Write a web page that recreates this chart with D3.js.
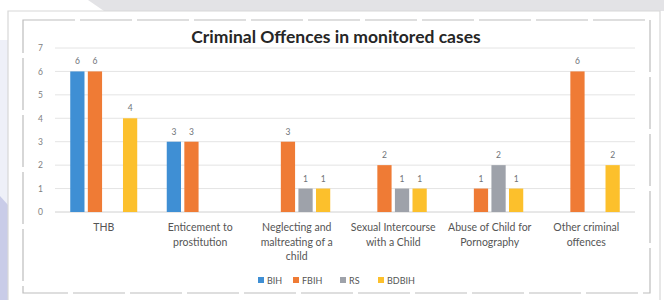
<!DOCTYPE html>
<html>
<head>
<meta charset="utf-8">
<script src="https://cdn.jsdelivr.net/npm/d3@7"></script>
<style>
  body { margin: 0; background: #fff; }
  svg { display: block; }
</style>
</head>
<body>
<script>
// chart data
const categories = ["THB", "Enticement to prostitution", "Neglecting and maltreating of a child",
  "Sexual Intercourse with a Child", "Abuse of Child for Pornography", "Other criminal offences"];
const categoryLines = [["THB"], ["Enticement to", "prostitution"], ["Neglecting and", "maltreating of a", "child"],
  ["Sexual Intercourse", "with a Child"], ["Abuse of Child for", "Pornography"], ["Other criminal", "offences"]];
const seriesNames = ["BIH", "FBIH", "RS", "BDBIH"];
const bihValues = [6, 3, null, null, null, null];
const fbihValues = [6, 3, 3, 2, 1, 6];
const rsValues = [null, null, 1, 1, 2, null];
const bdbihValues = [4, null, 1, 1, 1, 2];
const yTicks = [0, 1, 2, 3, 4, 5, 6, 7];
const chartTitle = "Criminal Offences in monitored cases";

const colors = {BIH: "#3f8fd4", FBIH: "#ef7b35", RS: "#9ea2aa", BDBIH: "#fcc02c"};
const seriesValues = {BIH: bihValues, FBIH: fbihValues, RS: rsValues, BDBIH: bdbihValues};

const w = 664, h = 300;
const svg = d3.select("body").append("svg").attr("width", w).attr("height", h);

// page background (photo of a report page)
svg.append("rect").attr("width", w).attr("height", h).attr("fill", "#ffffff");
svg.append("path").attr("d", "M88,0 L664,0 L664,11 L104,11 Z").attr("fill", "#e3e3e6");
svg.append("path").attr("d", "M0,40 L8,40 L8,300 L0,300 Z").attr("fill", "#eef0f8");
svg.append("path").attr("d", "M0,196 L8,205 L8,300 L0,300 Z").attr("fill", "#c9cce8");
svg.append("path").attr("d", "M8,300 L8,11 L660,11 L660,300")
  .attr("fill", "none").attr("stroke", "#d8d8d8").attr("stroke-width", 1.2);

// chart frame
svg.append("rect").attr("x", 23).attr("y", 20).attr("width", 627).attr("height", 273)
  .attr("fill", "#fff").attr("stroke", "#bdbdbd").attr("stroke-width", 1.2)
  .attr("stroke-dasharray", "52,5");

const plotLeft = 55, plotRight = 635, plotTop = 48, plotBottom = 212;
const font = "Lato, 'Open Sans', sans-serif";

const x0 = d3.scaleBand().domain(categories).range([plotLeft, plotRight]).paddingInner(0.306).paddingOuter(0.158);
const x1 = d3.scaleBand().domain(seriesNames).range([0, x0.bandwidth()]).paddingInner(0.19);
const y = d3.scaleLinear().domain([0, 7]).range([plotBottom, plotTop]);

// gridlines
svg.append("g").selectAll("line").data(yTicks).join("line")
  .attr("x1", plotLeft).attr("x2", plotRight)
  .attr("y1", d => y(d)).attr("y2", d => y(d))
  .attr("stroke", d => d === 0 ? "#d0d0d0" : "#e4e4e4").attr("stroke-width", 1);

// y axis labels
const yAxis = d3.axisLeft(y).tickValues(yTicks).tickFormat(d3.format("d")).tickSize(0).tickPadding(0);
const yg = svg.append("g").attr("transform", `translate(${plotLeft - 12},0)`).call(yAxis);
yg.select(".domain").remove();
yg.selectAll("text").attr("fill", "#808080").style("font-family", font).style("font-size", "8.5px");

// bars
const rows = [];
categories.forEach((c, i) => {
  seriesNames.forEach(s => {
    const v = seriesValues[s][i];
    if (v != null) rows.push({cat: c, series: s, value: v});
  });
});

svg.append("g").selectAll("rect").data(rows).join("rect")
  .attr("x", d => x0(d.cat) + x1(d.series))
  .attr("y", d => y(d.value))
  .attr("width", x1.bandwidth())
  .attr("height", d => y(0) - y(d.value))
  .attr("fill", d => colors[d.series]);

// data labels
svg.append("g").selectAll("text").data(rows).join("text")
  .attr("x", d => x0(d.cat) + x1(d.series) + x1.bandwidth() / 2)
  .attr("y", d => y(d.value) - 7)
  .attr("text-anchor", "middle")
  .attr("fill", "#6f7378")
  .style("font-family", font).style("font-size", "8.5px")
  .text(d => d.value);

// category labels
const xg = svg.append("g");
categories.forEach((c, i) => {
  const cx = x0(c) + x0.bandwidth() / 2;
  const t = xg.append("text")
    .attr("x", cx)
    .attr("y", 231)
    .attr("text-anchor", "middle")
    .attr("fill", "#555")
    .style("font-family", font).style("font-size", "10.5px");
  categoryLines[i].forEach((line, j) => {
    t.append("tspan").attr("x", cx).attr("dy", j === 0 ? 0 : 14.5).text(line);
  });
});

// title
svg.append("text").attr("x", 336).attr("y", 43).attr("text-anchor", "middle")
  .attr("fill", "#262626")
  .style("font-family", font).style("font-size", "17.5px").style("font-weight", "bold")
  .text(chartTitle);

// legend
const legendX = [258, 293, 340, 378];
const legend = svg.append("g");
seriesNames.forEach((s, i) => {
  legend.append("rect").attr("x", legendX[i]).attr("y", 277).attr("width", 6).attr("height", 6).attr("fill", colors[s]);
  legend.append("text").attr("x", legendX[i] + 9).attr("y", 283.5)
    .attr("fill", "#555")
    .style("font-family", font).style("font-size", "9px")
    .text(s);
});
</script>
</body>
</html>
